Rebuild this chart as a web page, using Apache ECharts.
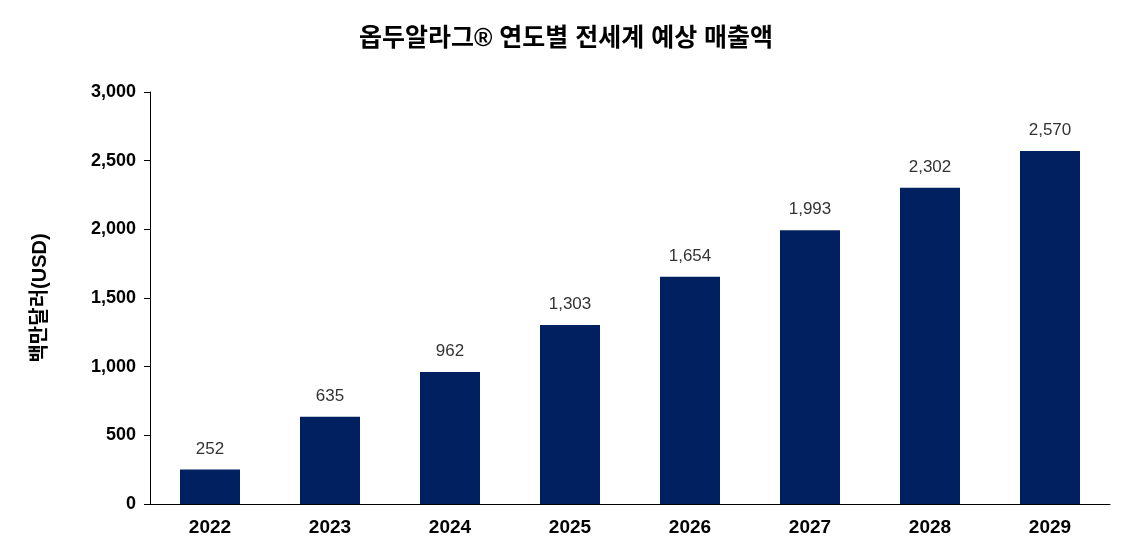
<!DOCTYPE html>
<html style="height: 100%">
<head>
<meta charset="utf-8">
<script src="https://cdn.jsdelivr.net/npm/echarts@6/dist/echarts.min.js"></script>
</head>
<body style="height: 100%; margin: 0; background: #fff">
<div id="container" style="width: 1132px; height: 557px;"></div>
<script>
// 연도별 예상 매출액 (백만달러)
var years = ['2022', '2023', '2024', '2025', '2026', '2027', '2028', '2029'];
var sales = [252, 635, 962, 1303, 1654, 1993, 2302, 2570];

var myChart = echarts.init(document.getElementById('container'));
var font = '"Liberation Sans", Arial, "Noto Sans CJK KR", sans-serif';
var option = {
	backgroundColor: '#fff',
	title: {
		text: '옵두알라그® 연도별 전세계 예상 매출액',
		left: 'center',
		top: 22,
		textStyle: { fontFamily: font, fontSize: 25, fontWeight: 'bold', color: '#000' }
	},
	grid: { left: 150, right: 22, top: 92, bottom: 53 },
	xAxis: {
		type: 'category',
		data: years,
		axisLine: { lineStyle: { color: '#000', width: 1 } },
		axisTick: { show: false },
		axisLabel: { fontFamily: font, fontSize: 19, fontWeight: 'bold', color: '#000', margin: 14 }
	},
	yAxis: {
		type: 'value',
		min: 0,
		max: 3000,
		interval: 500,
		name: '백만달러(USD)',
		nameLocation: 'middle',
		nameGap: 100,
		nameTextStyle: { fontFamily: font, fontSize: 20, fontWeight: 'bold', color: '#000' },
		axisLine: { show: true, lineStyle: { color: '#000', width: 1 } },
		axisTick: { show: true, length: 6, lineStyle: { color: '#000' } },
		splitLine: { show: false },
		axisLabel: {
			fontFamily: font, fontSize: 18, fontWeight: 'bold', color: '#000', margin: 14,
			formatter: function (v) { return v.toLocaleString('en-US'); }
		}
	},
	series: [{
		type: 'bar',
		data: sales,
		barWidth: '50%',
		itemStyle: { color: '#002060' },
		label: {
			show: true,
			position: 'top',
			distance: 12,
			fontFamily: font,
			fontSize: 17,
			color: '#333',
			formatter: function (p) { return p.value.toLocaleString('en-US'); }
		}
	}]
};
myChart.setOption(option, true);
</script>
</body>
</html>
